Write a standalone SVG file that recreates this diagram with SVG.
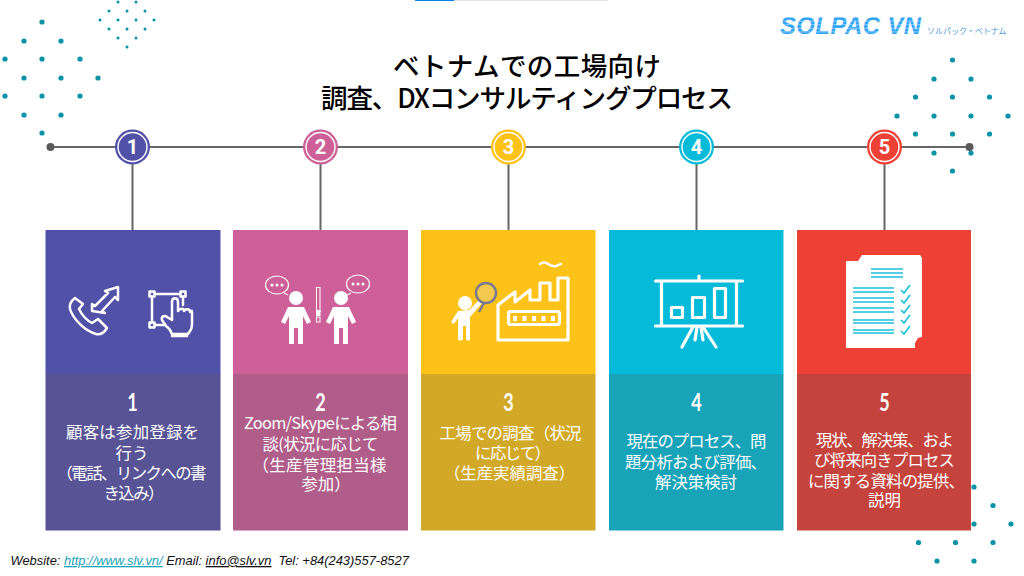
<svg xmlns="http://www.w3.org/2000/svg" width="1024" height="576" viewBox="0 0 1024 576">
<style>
.jp{font-family:"Noto Sans CJK JP","Noto Sans",sans-serif}
.title{font-size:26.5px;font-weight:500;fill:#000;text-anchor:middle}
.body{font-size:16.4px;fill:#fff;text-anchor:middle}
.big{font-family:"Lato","Noto Sans",sans-serif;font-size:24px;font-weight:700;fill:#fff;text-anchor:middle}
.num{font-family:"Roboto","Liberation Sans",sans-serif;font-size:20px;font-weight:700;fill:#fff;text-anchor:middle}
.ring{fill:none;stroke:#fff;stroke-width:1.4}
.dotL{fill:#0a93a8}
.ic{fill:none;stroke:#fff;stroke-width:2.5;stroke-linecap:round;stroke-linejoin:round}
.ic3{fill:none;stroke:#fff;stroke-width:3.2;stroke-linecap:round;stroke-linejoin:round}
.icw{fill:#fff;stroke:none}
.conn{stroke:#666;stroke-width:2;fill:none}
.foot{font-family:"Liberation Sans",Arial,sans-serif;font-size:12.9px;font-style:italic;fill:#111}
.doc{stroke:#1cc0dc;stroke-width:1.7;fill:none}
</style>
<defs>
<circle id="d1" r="2.6" class="dotL"/>
<circle id="d2" r="1.5" class="dotL"/>
<pattern id="stripe" width="4" height="3.600" patternUnits="userSpaceOnUse"><rect width="4" height="3.600" fill="#2ea3f5"/><rect y="2.600" width="4" height="1" fill="#8ccdfa"/></pattern>
<g id="person"><circle cx="0" cy="0" r="7" class="icw"/><path class="icw" d="M-8 9H8L15 24L11 26L7 18V46H2V30H-2V46H-7V18L-11 26L-15 24Z"/></g>
<g id="bubble"><ellipse cx="0" cy="0" rx="11.500" ry="9" fill="none" stroke="#fff" stroke-width="1.200"/><circle cx="-5" cy="0" r="1.500" class="icw"/><circle cx="0" cy="0" r="1.500" class="icw"/><circle cx="5" cy="0" r="1.500" class="icw"/></g>
<path id="chk" d="M0 5L3 8L9 0" stroke="#1cc0dc" stroke-width="1.700" fill="none"/>
</defs>
<rect width="1024" height="576" fill="#fff"/>
<g id="topbar"><rect x="415" y="0" width="193" height="1" fill="#e2e2e2"/><rect x="415" y="0" width="39" height="1" fill="#0a84e0"/></g>
<g id="dots">
<g><use href="#d1" x="42" y="22"/><use href="#d1" x="24" y="41"/><use href="#d1" x="61" y="41"/><use href="#d1" x="5" y="59"/><use href="#d1" x="42" y="59"/><use href="#d1" x="80" y="59"/><use href="#d1" x="24" y="78"/><use href="#d1" x="61" y="78"/><use href="#d1" x="98" y="78"/><use href="#d1" x="5" y="96"/><use href="#d1" x="42" y="96"/><use href="#d1" x="80" y="96"/><use href="#d1" x="24" y="115"/><use href="#d1" x="61" y="115"/><use href="#d1" x="42" y="133"/></g>
<g><use href="#d2" x="118" y="2"/><use href="#d2" x="136" y="2"/><use href="#d2" x="109" y="11"/><use href="#d2" x="127" y="11"/><use href="#d2" x="145" y="11"/><use href="#d2" x="100" y="20"/><use href="#d2" x="118" y="20"/><use href="#d2" x="136" y="20"/><use href="#d2" x="154" y="20"/><use href="#d2" x="109" y="29"/><use href="#d2" x="127" y="29"/><use href="#d2" x="145" y="29"/><use href="#d2" x="118" y="38"/><use href="#d2" x="136" y="38"/><use href="#d2" x="127" y="47"/></g>
<g><use href="#d1" x="952.500" y="60"/><use href="#d1" x="934" y="79"/><use href="#d1" x="971" y="79"/><use href="#d1" x="915.500" y="97"/><use href="#d1" x="952.500" y="97"/><use href="#d1" x="989.500" y="97"/><use href="#d1" x="897" y="116"/><use href="#d1" x="934" y="116"/><use href="#d1" x="971" y="116"/><use href="#d1" x="1008" y="116"/><use href="#d1" x="915.500" y="134"/><use href="#d1" x="952.500" y="134"/><use href="#d1" x="989.500" y="134"/><use href="#d1" x="934" y="153"/><use href="#d1" x="971" y="153"/><use href="#d1" x="952.500" y="171"/></g>
<g><use href="#d1" x="974" y="487"/><use href="#d1" x="993" y="505.500"/><use href="#d1" x="974" y="524"/><use href="#d1" x="1011" y="524"/><use href="#d1" x="918.500" y="542.500"/><use href="#d1" x="955.500" y="542.500"/><use href="#d1" x="993" y="542.500"/><use href="#d1" x="937" y="561"/><use href="#d1" x="974" y="561"/></g>
</g>
<g id="connectors">
<path class="conn" d="M50.500 147H969M132.500 147V230M320.500 147V230M508.500 147V230M696.500 147V230M884.500 147V230"/>
<circle cx="50.500" cy="147" r="4" fill="#5a5a5a"/><circle cx="969.500" cy="147" r="4" fill="#5a5a5a"/>
</g>
<g id="title"><text class="title jp" x="527" y="76" textLength="268">ベトナムでの工場向け</text><text class="title jp" x="527" y="107.500" textLength="412">調査、DXコンサルティングプロセス</text></g>
<g id="logo"><text x="780" y="34" font-family="Liberation Sans,Arial,sans-serif" font-size="23.800" font-weight="700" font-style="italic" fill="url(#stripe)" textLength="141">SOLPAC VN</text><text class="jp" x="927" y="33.500" font-size="8" fill="#4a9bd8">ソルパック・ベトナム</text></g>

<g id="node1">
<rect x="45.500" y="230" width="175" height="144.500" fill="#5151a8"/><rect x="45.500" y="374" width="175" height="156.500" fill="#575395"/>
<circle cx="132.500" cy="147" r="17.500" fill="#5151a8"/><circle cx="132.500" cy="147" r="14.500" class="ring"/><text class="num" x="132.500" y="154">1</text>
<path class="ic" d="M75 298C71 301 69 304 70 309C73 319 85 331 96 334C100 335 104 333 107 328L98 319L92 323C86 320 82 315 79 309L83 304Z"/>
<path class="ic" d="M92 311V304L95 306L108 293L105 291L118 287L118 300L115 297L102 311L105 313Z"/>
<path class="ic" d="M155 294H180M152 297V322M155 325H164M183 297V305"/>
<rect class="ic" x="149.500" y="291.500" width="5" height="5"/><rect class="ic" x="180.500" y="291.500" width="5" height="5"/><rect class="ic" x="149.500" y="322.500" width="5" height="5"/>
<path class="ic" d="M172 320V302C172 297 178 297 178 302V311C180 308 184 308 184 311C186 308 190 309 190 312C192 310 192 310 192 314V325C192 330 190 331 188 334H172C171 331 169 328 166 326L162 320C161 316 165 315 167 317Z"/>
<path class="ic" d="M172 336H187"/>
<text class="big" transform="translate(132.500,411) scale(.75,1)">1</text>
<g><text class="body jp" x="132.500" y="438" textLength="133">顧客は参加登録を</text><text class="body jp" x="132" y="459">行う</text><text class="body jp" x="131.500" y="479" textLength="150">（電話、リンクへの書</text><text class="body jp" x="134" y="499" textLength="61">き込み）</text></g>
</g>

<g id="node2">
<rect x="233" y="230" width="175" height="144.500" fill="#cd6098"/><rect x="233" y="374" width="175" height="156.500" fill="#b05d8a"/>
<circle cx="320.500" cy="147" r="17.500" fill="#cd6098"/><circle cx="320.500" cy="147" r="14.500" class="ring"/><text class="num" x="320.500" y="154">2</text>
<use href="#person" x="296" y="298"/><use href="#person" x="341" y="298"/>
<use href="#bubble" x="277" y="285"/><use href="#bubble" x="358" y="284"/>
<path d="M284 293L288 295" stroke="#fff" stroke-width="1.200"/><path d="M351 293L347 295" stroke="#fff" stroke-width="1.200"/>
<rect x="316.500" y="287.500" width="3.500" height="24" fill="none" stroke="#fff" stroke-width="1"/><rect x="316" y="310" width="4.500" height="6" class="icw"/><rect x="316.500" y="317" width="3.500" height="5" fill="none" stroke="#fff" stroke-width="1"/>
<text class="big" transform="translate(320.500,411) scale(.75,1)">2</text>
<g><text class="body jp" x="320.500" y="429" textLength="153">Zoom/Skypeによる相</text><text class="body jp" x="320.500" y="450" textLength="116">談(状況に応じて</text><text class="body jp" x="319.500" y="471" textLength="134">（生産管理担当様</text><text class="body jp" x="326" y="490">参加）</text></g>
</g>

<g id="node3">
<rect x="421" y="230" width="174.500" height="144.500" fill="#fdc217"/><rect x="421" y="374" width="174.500" height="156.500" fill="#d1a827"/>
<circle cx="508.500" cy="147" r="17.500" fill="#fdc217"/><circle cx="508.500" cy="147" r="14.500" class="ring"/><text class="num" x="508.500" y="154">3</text>
<circle cx="465" cy="303" r="7" class="icw"/>
<path class="icw" d="M458 311L469 310L479 300L482 303L470 317V339C470 341 467 341 466 339V326H463V339C462 341 459 341 458 339V318L454 324L451 322Z"/>
<path d="M484 303L479 312" stroke="#7a7a8e" stroke-width="2.500"/>
<circle cx="486" cy="293" r="10" fill="#f2c94c" stroke="#7a7a8e" stroke-width="2.500"/>
<path class="ic3" d="M498 340V305L515 292V302L530 290V300H540V283H550V300H558V278H568V340Z"/>
<rect class="ic3" x="508.500" y="311.500" width="51" height="13" rx="2"/>
<path class="icw" d="M513 316h4v5h-4zM522.500 316h4v5h-4zM532 316h4v5h-4zM541.500 316h4v5h-4zM551 316h4v5h-4z"/>
<path class="ic" d="M540 264C546 259 550 268 556 266C559 265 560 264 561 264"/>
<text class="big" transform="translate(508.500,411) scale(.75,1)">3</text>
<g><text class="body jp" x="510.500" y="439" textLength="142">工場での調査（状況</text><text class="body jp" x="513" y="459" textLength="76">に応じて）</text><text class="body jp" x="509.500" y="479">（生産実績調査）</text></g>
</g>

<g id="node4">
<rect x="609" y="230" width="174.500" height="144.500" fill="#06bbd9"/><rect x="609" y="374" width="174.500" height="156.500" fill="#18a3b8"/>
<circle cx="696.500" cy="147" r="17.500" fill="#06bbd9"/><circle cx="696.500" cy="147" r="14.500" class="ring"/><text class="num" x="696.500" y="154">4</text>
<path class="ic3" d="M655.500 281H742.500M699 276V281M661.500 281V326M736.500 281V326M655.500 326H742.500M693 327L682 347M703 327L716 347M697 327L695 340M701 327L703 340"/>
<rect class="ic3" x="671.500" y="307.500" width="11" height="10"/><rect class="ic3" x="692.500" y="297.500" width="12" height="20"/><rect class="ic3" x="714.500" y="288.500" width="11" height="29"/>
<text class="big" transform="translate(696.500,411) scale(.75,1)">4</text>
<g><text class="body jp" x="696.500" y="447" textLength="140">現在のプロセス、問</text><text class="body jp" x="696" y="468" textLength="142">題分析および評価、</text><text class="body jp" x="696" y="488">解決策検討</text></g>
</g>

<g id="node5">
<rect x="797" y="230" width="174" height="144.500" fill="#ee4136"/><rect x="797" y="374" width="174" height="156.500" fill="#c4443d"/>
<circle cx="884.500" cy="147" r="17.500" fill="#ee4136"/><circle cx="884.500" cy="147" r="14.500" class="ring"/><text class="num" x="884.500" y="154">5</text>
<path class="icw" d="M846 261H858L862 255H920L922 258V337L918 338L915 343V348H846Z"/>
<path class="doc" d="M871 269H903M871 273H903M871 277H903M853 288H894M853 292H894M853 298H894M853 302H894M853 308H894M853 312H894M853 320H894M853 323H894M853 330H894M853 333H894"/>
<use href="#chk" x="901" y="285"/><use href="#chk" x="901" y="295"/><use href="#chk" x="901" y="305"/><use href="#chk" x="901" y="315"/><use href="#chk" x="901" y="326"/>
<text class="big" transform="translate(884.500,411) scale(.75,1)">5</text>
<g><text class="body jp" x="885" y="446" textLength="138">現状、解決策、およ</text><text class="body jp" x="884.500" y="466" textLength="141">び将来向きプロセス</text><text class="body jp" x="886.500" y="487" textLength="157">に関する資料の提供、</text><text class="body jp" x="884.500" y="506">説明</text></g>
</g>

<g id="footer"><text class="foot" x="10.500" y="565">Website: <tspan fill="#17a3b8" text-decoration="underline">http://www.slv.vn/</tspan> Email: <tspan text-decoration="underline">info@slv.vn</tspan><tspan dx="7">Tel: +84(243)557-8527</tspan></text></g>
</svg>
